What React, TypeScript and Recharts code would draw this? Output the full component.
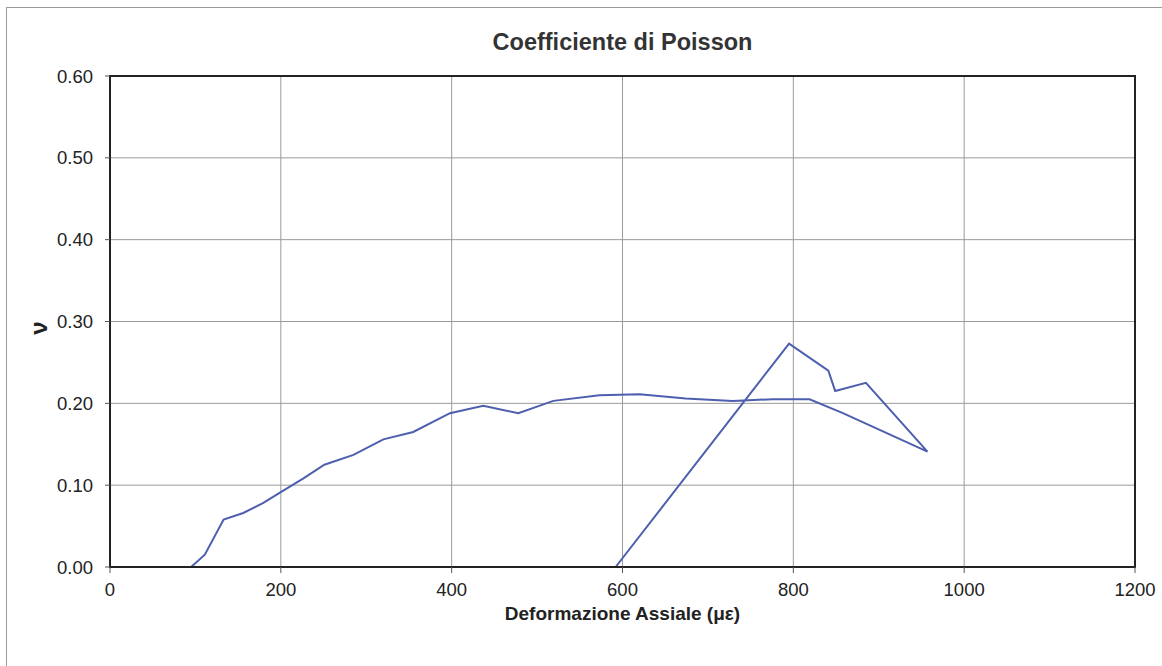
import React from 'react';
import { LineChart, Line, XAxis, YAxis, CartesianGrid, ReferenceArea } from 'recharts';

const strainValues = [0, 95, 111, 133, 156, 179, 199, 226, 251, 285, 320, 355, 398, 437, 478, 519, 573, 620, 674, 729, 776, 819, 858, 957, 885, 849, 841, 795, 592];
const poissonValues = [0, 0, 0.015, 0.058, 0.066, 0.078, 0.091, 0.108, 0.125, 0.137, 0.156, 0.165, 0.188, 0.197, 0.188, 0.203, 0.210, 0.211, 0.206, 0.203, 0.205, 0.205, 0.188, 0.141, 0.225, 0.215, 0.240, 0.273, 0.0];
const xTicks = [0, 200, 400, 600, 800, 1000, 1200];
const yTicks = [0, 0.1, 0.2, 0.3, 0.4, 0.5, 0.6];

const data = strainValues.map((x, i) => ({ x, v: poissonValues[i] }));

const font = '"Liberation Sans", Arial, sans-serif';

export default function App() {
  return (
    <div style={{ position: 'absolute', left: 0, top: 0, width: 1162, height: 666, background: '#fff', overflow: 'hidden', fontFamily: font }}>
      <div style={{ position: 'absolute', left: 6, top: 7, width: 1200, height: 700, borderLeft: '1px solid #9a9a9a', borderTop: '1px solid #9a9a9a' }} />
      <div style={{ position: 'absolute', left: 110, width: 1025, top: 29, textAlign: 'center', fontSize: 23.5, fontWeight: 'bold', color: '#333' }}>
        Coefficiente di Poisson
      </div>
      <LineChart width={1162} height={666} data={data} margin={{ top: 76, right: 27, bottom: 69, left: 50 }} style={{ position: 'absolute', left: 0, top: 0 }}>
        <CartesianGrid stroke="#9a9a9a" strokeWidth={1} />
        <XAxis
          type="number"
          dataKey="x"
          domain={[0, 1200]}
          ticks={xTicks}
          interval={0}
          height={30}
          axisLine={{ stroke: '#222', strokeWidth: 2 }}
          tickLine={{ stroke: '#555' }}
          tickSize={6}
          tickMargin={10}
          tick={{ fill: '#222', fontSize: 18.5, fontFamily: font }}
          label={{ value: 'Deformazione Assiale (με)', position: 'bottom', offset: 10, style: { fill: '#222', fontSize: 19, fontWeight: 'bold', fontFamily: font } }}
        />
        <YAxis
          type="number"
          dataKey="v"
          domain={[0, 0.6]}
          ticks={yTicks}
          interval={0}
          width={60}
          axisLine={{ stroke: '#222', strokeWidth: 2 }}
          tickLine={{ stroke: '#555' }}
          tickSize={5}
          tickMargin={12}
          tickFormatter={(t: number) => t.toFixed(2)}
          tick={{ fill: '#222', fontSize: 18.5, fontFamily: font }}
          label={{ value: 'ν', angle: -90, position: 'left', offset: 12, style: { fill: '#222', fontSize: 24, fontWeight: 'bold', fontFamily: font } }}
        />
        <ReferenceArea x1={0} x2={1200} y1={0} y2={0.6} fill="none" fillOpacity={0} stroke="#222" strokeWidth={2} ifOverflow="visible" />
        <Line
          type="linear"
          dataKey="v"
          stroke="#4d5fae"
          strokeWidth={2}
          dot={false}
          activeDot={false}
          isAnimationActive={false}
        />
      </LineChart>
    </div>
  );
}
